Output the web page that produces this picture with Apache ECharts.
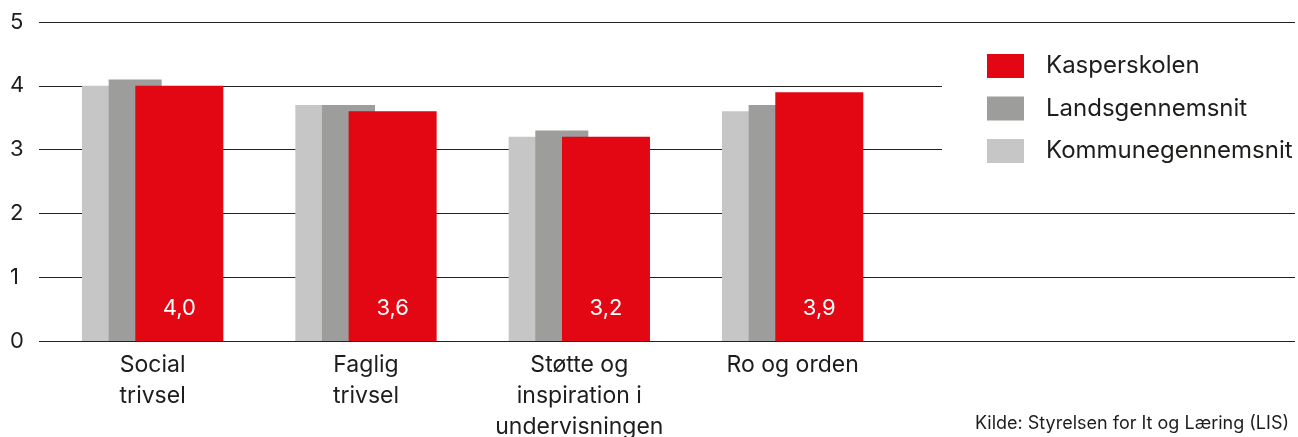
<!DOCTYPE html>
<html>
<head>
<meta charset="utf-8">
<script src="https://cdn.jsdelivr.net/npm/echarts@6/dist/echarts.min.js"></script>
<style>html,body{margin:0;padding:0;background:#fff}#c{width:1298px;height:437px}</style>
</head>
<body>
<div id="c"></div>
<script>
const categories = ['Social\ntrivsel', 'Faglig\ntrivsel', 'Støtte og\ninspiration i\nundervisningen', 'Ro og orden'];
const kasperskolen = [4.0, 3.6, 3.2, 3.9];
const landsgennemsnit = [4.1, 3.7, 3.3, 3.7];
const kommunegennemsnit = [4.0, 3.7, 3.2, 3.6];
const seriesNames = ['Kasperskolen', 'Landsgennemsnit', 'Kommunegennemsnit'];
const yMin = 0, yMax = 5, yStep = 1;
const sourceText = 'Kilde: Styrelsen for It og Læring (LIS)';

const FONT = 'Inter';
const TXT = '#1d1d1b';
const chart = echarts.init(document.getElementById('c'), null, {renderer: 'canvas'});
chart.setOption({
  animation: false,
  backgroundColor: '#fff',
  textStyle: {fontFamily: FONT},
  title: {
    text: sourceText, right: 4, top: 410,
    textStyle: {fontFamily: FONT, fontSize: 18, fontWeight: 'normal', color: TXT}
  },
  legend: {
    data: seriesNames, orient: 'vertical', left: 942, top: 40,
    padding: [14, 20, 14, 45], backgroundColor: '#fff',
    itemWidth: 37, itemHeight: 24, itemGap: 18.5,
    icon: 'rect',
    textStyle: {fontFamily: FONT, fontSize: 24, color: TXT, padding: [0, 0, 0, 17]}
  },
  grid: [
    {left: 39, right: 3, top: 22, height: 319, outerBoundsMode: 'none', containLabel: false},
    {left: 46, width: 853.3, top: 22, height: 319, outerBoundsMode: 'none', containLabel: false}
  ],
  xAxis: [
    {gridIndex: 0, type: 'category', data: categories, show: false},
    {gridIndex: 1, type: 'category', data: categories,
      axisLine: {show: false}, axisTick: {show: false},
      axisLabel: {fontFamily: FONT, fontSize: 23, lineHeight: 31, color: TXT, margin: 9, interval: 0}}
  ],
  yAxis: [
    {gridIndex: 0, type: 'value', min: yMin, max: yMax, interval: yStep,
      axisLine: {show: false}, axisTick: {show: false},
      splitLine: {lineStyle: {color: '#222', width: 1}},
      axisLabel: {fontFamily: FONT, fontSize: 22, color: TXT, align: 'left', margin: 29}},
    {gridIndex: 1, type: 'value', min: yMin, max: yMax, interval: yStep, show: false, splitLine: {show: false}}
  ],
  series: [
    {name: 'Kommunegennemsnit', type: 'bar', xAxisIndex: 1, yAxisIndex: 1, data: kommunegennemsnit,
      barWidth: 53, barGap: '-49.7%', itemStyle: {color: '#c6c6c6'}},
    {name: 'Landsgennemsnit', type: 'bar', xAxisIndex: 1, yAxisIndex: 1, data: landsgennemsnit,
      barWidth: 53, barGap: '-49.7%', itemStyle: {color: '#9d9d9c'}},
    {name: 'Kasperskolen', type: 'bar', xAxisIndex: 1, yAxisIndex: 1, data: kasperskolen,
      barWidth: 88, barGap: '-49.7%', itemStyle: {color: '#e30613'},
      label: {show: true, position: 'insideBottom', distance: 22, color: '#fff',
        fontFamily: FONT, fontSize: 22,
        formatter: p => p.value.toFixed(1).replace('.', ',')}}
  ]
});
</script>
</body>
</html>
